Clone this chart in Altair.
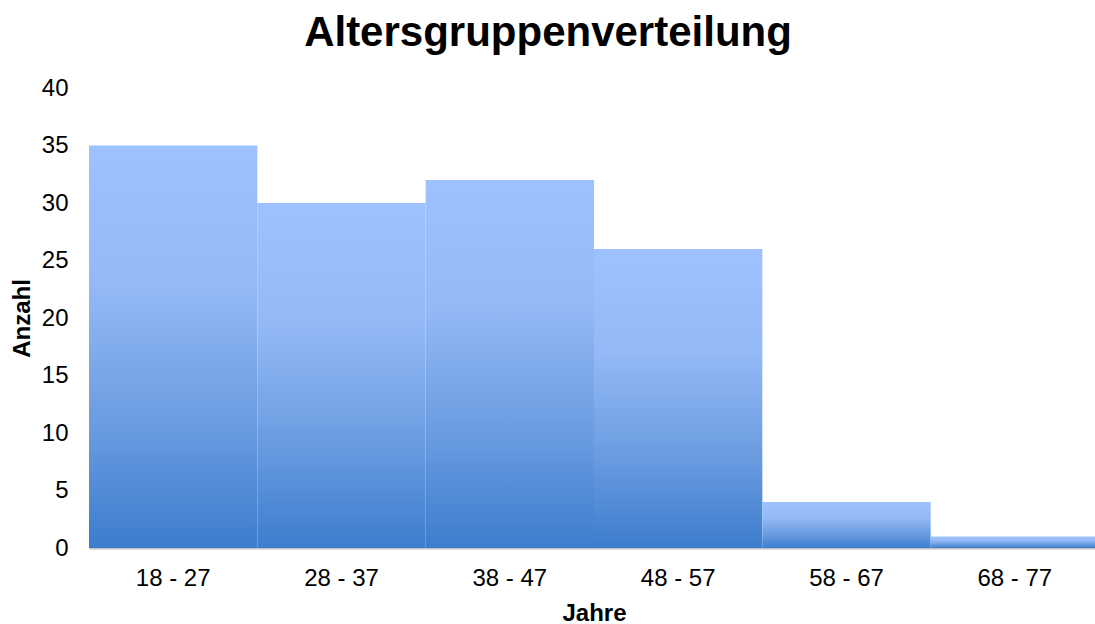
import altair as alt
import pandas as pd

# Age groups and head counts
age_groups = ["18 - 27", "28 - 37", "38 - 47", "48 - 57", "58 - 67", "68 - 77"]
counts = [35, 30, 32, 26, 4, 1]

df = pd.DataFrame({"Jahre": age_groups, "Anzahl": counts})

bar_fill = alt.Gradient(
    gradient="linear",
    stops=[
        alt.GradientStop(color="#9dc2ff", offset=0),
        alt.GradientStop(color="#93b9f6", offset=0.35),
        alt.GradientStop(color="#6a9be0", offset=0.7),
        alt.GradientStop(color="#3c7dcd", offset=1),
    ],
    x1=0, x2=0, y1=0, y2=1,
)

chart = (
    alt.Chart(df)
    .mark_bar(fill=bar_fill, clip=True)
    .encode(
        x=alt.X(
            "Jahre:N",
            sort=age_groups,
            title="Jahre",
            scale=alt.Scale(range=[0, 1010], paddingInner=0, paddingOuter=0),
            axis=alt.Axis(
                labelAngle=0,
                ticks=False,
                labelFontSize=24,
                labelPadding=18,
                labelColor="#000000",
                titleFontSize=24,
                titleFontWeight="bold",
                titleColor="#000000",
                titlePadding=11,
                domainColor="#c2c2c2",
                domainWidth=2,
            ),
        ),
        y=alt.Y(
            "Anzahl:Q",
            title="Anzahl",
            scale=alt.Scale(domain=[0, 40], nice=False),
            axis=alt.Axis(
                values=[0, 5, 10, 15, 20, 25, 30, 35, 40],
                ticks=False,
                domain=False,
                grid=False,
                labelFontSize=24,
                labelPadding=21,
                labelColor="#000000",
                titleFontSize=24,
                titleFontWeight="bold",
                titleColor="#000000",
                titlePadding=7,
            ),
        ),
    )
    .properties(
        width=1006,
        height=460,
        autosize=alt.AutoSizeParams(type="none"),
        padding={"left": 89, "top": 88, "right": 0, "bottom": 76},
        title=alt.TitleParams(
            "Altersgruppenverteilung",
            fontSize=42,
            fontWeight="bold",
            color="#000000",
            anchor="middle",
            dx=-44,
            offset=21,
        ),
    )
    .configure(font="Liberation Sans")
    .configure_view(stroke=None)
)

chart.save("out.html", embed_options={"renderer": "svg", "actions": False})
